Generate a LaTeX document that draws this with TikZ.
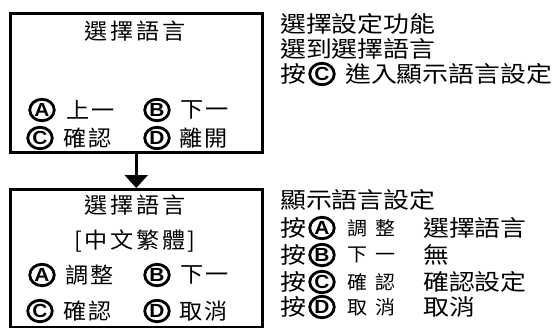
\documentclass[tikz,border=0pt]{standalone}
\usepackage{fontspec}
\usetikzlibrary{arrows.meta,shapes.geometric}
\newfontfamily\cjksans[FakeStretch=1.15]{Noto Sans CJK TC}
\newfontfamily\cjkbox[FakeStretch=1.05,LetterSpace=12]{Noto Sans CJK TC}
\newfontfamily\cjksmall[FakeStretch=1.05,LetterSpace=45]{Noto Sans CJK TC}
\newfontfamily\keyfont[FakeStretch=1.1]{Liberation Sans}
\tikzset{
  boxframe/.style={draw, line width=3pt, inner sep=0pt, anchor=north west,
    minimum width=252.5pt},
  keyc/.style={draw, ellipse, line width=2.8pt, inner sep=0pt,
    minimum width=24.5pt, minimum height=21.5pt,
    font=\keyfont\bfseries\fontsize{19}{19}\selectfont},
  stxt/.style={anchor=west, inner sep=0pt, font=\cjksans\fontsize{22.5}{25}\selectfont},
  btxt/.style={anchor=west, inner sep=0pt, font=\cjkbox\fontsize{22}{24}\selectfont},
  btitle/.style={anchor=center, inner sep=0pt, font=\cjkbox\fontsize{22}{24}\selectfont},
  smtxt/.style={anchor=west, inner sep=0pt, font=\cjksmall\fontsize{19}{20}\selectfont},
  flow/.style={line width=2.5pt, -{Triangle[width=23pt,length=13pt]}}
}
\begin{document}
\begin{tikzpicture}[x=1pt,y=-1pt]
\useasboundingbox (0,0) rectangle (553,327);
\fill[white] (0,0) rectangle (553,327);
% boxes
\node[boxframe, minimum height=139.5pt] (box1) at (8.5,11.5) {};
\node[boxframe, minimum height=138pt] (box2) at (8.5,188) {};
\draw[flow] (box1.south) -- (box2.north);
% box 1 content
\node[btitle] (t1) at (135,31) {選擇語言};
\node[keyc] (k1a) at (42,110) {A};
\node[btxt] (l1a) at (66,110) {上一};
\node[keyc] (k1b) at (157,110) {B};
\node[btxt] (l1b) at (180,110) {下一};
\node[keyc] (k1c) at (40,138) {C};
\node[btxt] (l1c) at (63,138) {確認};
\node[keyc] (k1d) at (157,138) {D};
\node[btxt] (l1d) at (179,138) {離開};
% box 2 content
\node[btitle] (t2) at (135,205) {選擇語言};
\node[btitle] (t2b) at (135,241) {[中文繁體]};
\node[keyc] (k2a) at (42,275) {A};
\node[btxt] (l2a) at (65,275) {調整};
\node[keyc] (k2b) at (157,275) {B};
\node[btxt] (l2b) at (180,275) {下一};
\node[keyc] (k2c) at (40,311) {C};
\node[btxt] (l2c) at (63,311) {確認};
\node[keyc] (k2d) at (157,311) {D};
\node[btxt] (l2d) at (179,311) {取消};
% right upper text
\node[stxt] (r1) at (280,24) {選擇設定功能};
\node[stxt] (r2) at (280,49) {選到選擇語言};
\node[stxt] (r3) at (280,74) {按};
\node[keyc] (r3k) at (322,74) {C};
\node[stxt] (r3t) at (345,74) {進入顯示語言設定};
% right lower text
\node[stxt] (s0) at (280,200) {顯示語言設定};
\node[stxt] (s1) at (280,228) {按};
\node[keyc] (s1k) at (322,228) {A};
\node[smtxt] (s1s) at (347,228) {調整};
\node[stxt] (s1t) at (423,228) {選擇語言};
\node[stxt] (s2) at (280,255) {按};
\node[keyc] (s2k) at (322,255) {B};
\node[smtxt] (s2s) at (347,255) {下一};
\node[stxt] (s2t) at (423,255) {無};
\node[stxt] (s3) at (280,282) {按};
\node[keyc] (s3k) at (322,282) {C};
\node[smtxt] (s3s) at (347,282) {確認};
\node[stxt] (s3t) at (423,282) {確認設定};
\node[stxt] (s4) at (280,307) {按};
\node[keyc] (s4k) at (322,307) {D};
\node[smtxt] (s4s) at (347,307) {取消};
\node[stxt] (s4t) at (423,307) {取消};
\end{tikzpicture}
\end{document}
